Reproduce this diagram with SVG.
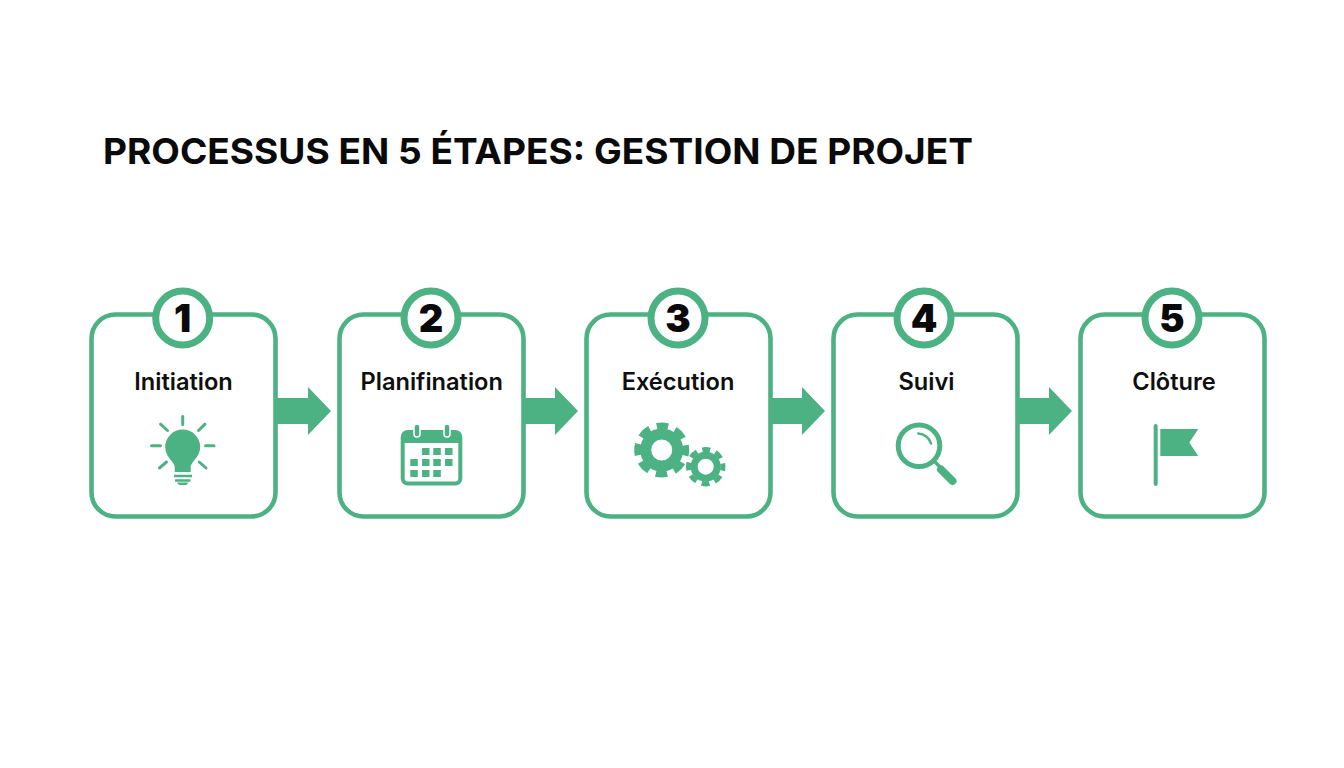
<svg xmlns="http://www.w3.org/2000/svg" width="1344" height="768" viewBox="0 0 1344 768">
<style>
.box{fill:#fff;stroke:#4db283;stroke-width:4.6}
.badge{fill:#fff;stroke:#4db283;stroke-width:7}
.num{font-family:"Inter","DejaVu Sans",sans-serif;font-weight:900;font-size:38px;fill:#0a0a0a;text-anchor:middle}
.label{font-family:"Inter","Liberation Sans",sans-serif;font-weight:600;font-size:23.6px;fill:#0f0f0f;text-anchor:middle}
.title{font-family:"Inter","Liberation Sans",Arial,sans-serif;font-weight:700;font-size:36px;fill:#0a0a0a}
.g{fill:#4db283}
.s{fill:none;stroke:#4db283;stroke-linecap:round}
.arrow{fill:#4db283}
</style>
<rect width="1344" height="768" fill="#fff"/>
<text class="title" x="103" y="164" textLength="870" lengthAdjust="spacingAndGlyphs">PROCESSUS EN 5 ÉTAPES: GESTION DE PROJET</text>
<g id="connectors">
<polygon class="arrow" points="276,398 308,398 308,387 331,411 308,435 308,424 276,424"/>
<polygon class="arrow" points="523,398 555,398 555,387 578,411 555,435 555,424 523,424"/>
<polygon class="arrow" points="770,398 802,398 802,387 825,411 802,435 802,424 770,424"/>
<polygon class="arrow" points="1018,398 1049,398 1049,387 1072,411 1049,435 1049,424 1018,424"/>
</g>
<g id="node1">
<rect class="box" x="91.5" y="314.5" width="184" height="202" rx="24"/>
<circle class="badge" cx="182.7" cy="318" r="27"/>
<text class="num" x="182.7" y="332">1</text>
<text class="label" x="183.5" y="390">Initiation</text>
<path class="g" d="M174.7 472V467C174.7 462 165.2 457 165.2 447A17.5 17.5 0 0 1 200.2 447C200.2 457 190.7 462 190.7 467V472Z"/>
<path class="s" style="stroke-linecap:butt" stroke-width="2.6" d="M174 476H192M175 480.5H190.5"/>
<path class="g" d="M177 482.5H188.5L186.5 485H179Z"/>
<path class="s" stroke-width="3" d="M182.7 416.5V424.5M160.5 424.2L167.5 430.5M205 424.2L198.5 430.5M151.5 445.7H160.5M205.5 445.7H214M159.5 468L166.5 462M206 468L199.2 462"/>
</g>
<g id="node2">
<rect class="box" x="339.5" y="314.5" width="184" height="202" rx="24"/>
<circle class="badge" cx="431" cy="318" r="27"/>
<text class="num" x="431" y="332">2</text>
<text class="label" x="431.7" y="390">Planifination</text>
<rect x="402.7" y="432" width="57.6" height="51.5" rx="5" fill="#fff" stroke="#4db283" stroke-width="4"/>
<path class="g" d="M402 443V436Q402 431 407 431H456Q461 431 461 436V443Z"/>
<rect x="414" y="424" width="6" height="13" rx="3" class="g" stroke="#fff" stroke-width="1.5"/>
<rect x="444" y="424" width="6" height="13" rx="3" class="g" stroke="#fff" stroke-width="1.5"/>
<path class="g" d="M422 448h7.5v7h-7.5zM433.3 448h7.5v7h-7.5zM445 448h7.5v7h-7.5zM410.3 459h7.5v7h-7.5zM422 459h7.5v7h-7.5zM433.3 459h7.5v7h-7.5zM445 459h7.5v7h-7.5zM410.3 470h7.5v7h-7.5zM422 470h7.5v7h-7.5zM433.3 470h7.5v7h-7.5z"/>
</g>
<g id="node3">
<rect class="box" x="586.5" y="314.5" width="184" height="202" rx="24"/>
<circle class="badge" cx="678" cy="318" r="27"/>
<text class="num" x="678" y="332">3</text>
<text class="label" x="678" y="390">Exécution</text>
<circle cx="661.7" cy="450" r="16" fill="none" stroke="#4db283" stroke-width="11"/>
<circle cx="661.7" cy="450" r="24" fill="none" stroke="#4db283" stroke-width="7" stroke-dasharray="11.5 7.35" stroke-dashoffset="5.75"/>
<circle cx="705.7" cy="466.7" r="11.5" fill="none" stroke="#4db283" stroke-width="7"/>
<circle cx="705.7" cy="466.7" r="17.2" fill="none" stroke="#4db283" stroke-width="5" stroke-dasharray="8 5.51" stroke-dashoffset="4"/>
</g>
<g id="node4">
<rect class="box" x="833.5" y="314.5" width="184" height="202" rx="24"/>
<circle class="badge" cx="924" cy="318" r="27"/>
<text class="num" x="924" y="332">4</text>
<text class="label" x="926.5" y="390">Suivi</text>
<circle cx="919" cy="445.7" r="20.8" fill="none" stroke="#4db283" stroke-width="5"/>
<path class="s" stroke-width="2.5" d="M918.3 433.5A14 14 0 0 1 931 443.5"/>
<path class="s" stroke-width="3.5" d="M934 461L941 468"/>
<path class="s" stroke-width="8" d="M941 469.5L952.5 481"/>
</g>
<g id="node5">
<rect class="box" x="1080.5" y="314.5" width="184" height="202" rx="24"/>
<circle class="badge" cx="1172" cy="318" r="27"/>
<text class="num" x="1172" y="332">5</text>
<text class="label" x="1174" y="390">Clôture</text>
<path class="s" stroke-width="4" d="M1155.7 426V484"/>
<polygon class="g" points="1160.3,429 1198.3,429 1189.3,442.5 1198.3,456 1160.3,456"/>
</g>
</svg>
